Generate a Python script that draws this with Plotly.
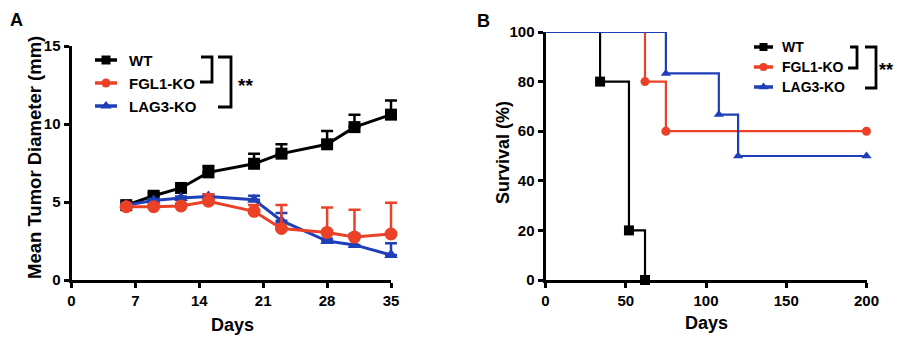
import plotly.graph_objects as go

# ---- Panel A: tumour growth (mean diameter, upper SEM) ----
days_a = [6, 9, 12, 15, 20, 23, 28, 31, 35]
wt_mean = [4.8, 5.4, 5.9, 6.9, 7.45, 8.1, 8.7, 9.8, 10.6]
wt_err = [0.15, 0.2, 0.2, 0.4, 0.65, 0.6, 0.85, 0.8, 0.9]
fgl1_mean = [4.7, 4.7, 4.75, 5.05, 4.4, 3.3, 3.05, 2.75, 2.95]
fgl1_err = [0.1, 0.1, 0.15, 0.45, 0.4, 1.5, 1.6, 1.75, 2.0]
lag3_mean = [4.8, 5.1, 5.25, 5.35, 5.15, 3.8, 2.5, 2.25, 1.6]
lag3_err = [0.1, 0.1, 0.1, 0.15, 0.25, 0.5, 0.15, 0.7, 0.75]

# ---- Panel B: Kaplan-Meier survival ----
wt_days = [0, 34, 52, 62]
wt_surv = [100, 80, 20, 0]
fgl1_days = [0, 62, 75, 200]
fgl1_surv = [100, 80, 60, 60]
lag3_days = [0, 75, 108, 120, 200]
lag3_surv = [100, 83.3, 66.7, 50, 50]

group_names = ["WT", "FGL1-KO", "LAG3-KO"]

BLACK = "#000000"
RED = "#ea4127"
BLUE = "#1f3fb8"
FONT = "Arial, Liberation Sans, Helvetica, sans-serif"

W, H = 904, 346


def px_x(p):
    return p / W


def px_y(p):
    return 1 - p / H


# panel A frame in pixels
AX0, AX1, AY0, AY1 = 71.5, 391.0, 280.0, 46.0
A_XR, A_YR = (0, 35), (0, 15)
PAD = 12  # padding so caps at the last day are not clipped
kx = (AX1 - AX0) / (A_XR[1] - A_XR[0])
ky = (AY0 - AY1) / (A_YR[1] - A_YR[0])

fig = go.Figure()

# transparent anchor so the framed panel-A axes are drawn
fig.add_trace(go.Scatter(
    x=days_a, y=wt_mean, mode="markers", marker=dict(opacity=0),
    xaxis="x", yaxis="y", hoverinfo="skip", showlegend=False,
))

# panel A series (FGL1 drawn last, on top) on a padded twin of the panel-A axes
series_a = [
    (wt_mean, wt_err, BLACK, "square", 12),
    (lag3_mean, lag3_err, BLUE, "triangle-up", 12),
    (fgl1_mean, fgl1_err, RED, "circle", 13),
]
for mean, err, col, sym, sz in series_a:
    fig.add_trace(go.Scatter(
        x=days_a, y=mean, mode="lines+markers",
        line=dict(color=col, width=3),
        marker=dict(symbol=sym, size=sz, color=col),
        error_y=dict(type="data", array=err, arrayminus=[0] * len(err),
                     symmetric=False, color=col, thickness=2.5, width=6),
        xaxis="x4", yaxis="y4", cliponaxis=False, showlegend=False,
    ))

# panel B step curves
series_b = [
    (wt_days, wt_surv, BLACK, "square", 10),
    (fgl1_days, fgl1_surv, RED, "circle", 9),
    (lag3_days, lag3_surv, BLUE, "triangle-up", 9),
]
for xs, ys, col, sym, sz in series_b:
    fig.add_trace(go.Scatter(
        x=xs, y=ys, mode="lines", line=dict(color=col, width=2.2, shape="hv"),
        xaxis="x2", yaxis="y2", cliponaxis=False, showlegend=False,
    ))
    fig.add_trace(go.Scatter(
        x=xs[1:], y=ys[1:], mode="markers", marker=dict(symbol=sym, size=sz, color=col),
        xaxis="x2", yaxis="y2", cliponaxis=False, showlegend=False,
    ))

# legend glyphs drawn on a full-figure pixel overlay
legend_specs = [
    # (line x0, x1, marker size, rows y, text x, font size)
    (95, 117, 9, [60, 83, 106], 127, 15),
    (754, 773, 8, [47, 67, 87], 780, 14),
]
styles = [(BLACK, "square"), (RED, "circle"), (BLUE, "triangle-up")]
annotations = []
for x0, x1, msz, rows, tx, fs in legend_specs:
    for (col, sym), yy, name in zip(styles, rows, group_names):
        fig.add_trace(go.Scatter(
            x=[x0, x1], y=[yy, yy], mode="lines",
            line=dict(color=col, width=3.5),
            xaxis="x3", yaxis="y3", showlegend=False, hoverinfo="skip",
        ))
        fig.add_trace(go.Scatter(
            x=[(x0 + x1) / 2], y=[yy], mode="markers",
            marker=dict(symbol=sym, size=msz + (1 if sym == "triangle-up" else 0), color=col),
            xaxis="x3", yaxis="y3", showlegend=False, hoverinfo="skip",
        ))
        annotations.append(dict(
            x=tx, y=yy, xref="x3", yref="y3", text=f"<b>{name}</b>",
            showarrow=False, xanchor="left", yanchor="middle",
            font=dict(family=FONT, size=fs, color="black"),
        ))

# significance brackets
shapes = []


def bracket(xl, xr, yt, yb, xlb=None):
    xlb = xl if xlb is None else xlb
    path = f"M {xl},{yt} L {xr},{yt} L {xr},{yb} L {xlb},{yb}"
    shapes.append(dict(type="path", path=path, xref="x3", yref="y3",
                       line=dict(color="black", width=2.8)))


bracket(201, 212, 57, 82, 200)
bracket(218, 231, 57, 107)
bracket(850, 857, 47, 68, 848)
bracket(865, 876, 47, 88)

annotations.append(dict(x=236, y=85, xref="x3", yref="y3", text="<b>**</b>", showarrow=False,
                        xanchor="left", yanchor="middle", font=dict(family=FONT, size=19, color="black")))
annotations.append(dict(x=877, y=70, xref="x3", yref="y3", text="<b>**</b>", showarrow=False,
                        xanchor="left", yanchor="middle", font=dict(family=FONT, size=18, color="black")))

# panel letters and axis titles
title_font = dict(family=FONT, size=18, color="black")
annotations += [
    dict(x=16, y=20, xref="x3", yref="y3", text="<b>A</b>", showarrow=False,
         xanchor="center", yanchor="middle", font=dict(family=FONT, size=18, color="black")),
    dict(x=483, y=21, xref="x3", yref="y3", text="<b>B</b>", showarrow=False,
         xanchor="center", yanchor="middle", font=dict(family=FONT, size=18, color="black")),
    dict(x=34, y=158, xref="x3", yref="y3", text="<b>Mean Tumor Diameter (mm)</b>", showarrow=False,
         textangle=-90, xanchor="center", yanchor="middle", font=dict(family=FONT, size=18.5, color="black")),
    dict(x=232, y=325, xref="x3", yref="y3", text="<b>Days</b>", showarrow=False,
         xanchor="center", yanchor="middle", font=title_font),
    dict(x=503, y=153, xref="x3", yref="y3", text="<b>Survival (%)</b>", showarrow=False,
         textangle=-90, xanchor="center", yanchor="middle", font=title_font),
    dict(x=706, y=323, xref="x3", yref="y3", text="<b>Days</b>", showarrow=False,
         xanchor="center", yanchor="middle", font=title_font),
]

tick_font = dict(family=FONT, size=15, color="black", weight="bold")
axis_common = dict(showline=True, linecolor="black", linewidth=3, ticks="outside",
                   ticklen=5, tickwidth=2.5, tickcolor="black", showgrid=False,
                   zeroline=False, tickfont=tick_font, automargin=False, fixedrange=True)

fig.update_layout(
    width=W, height=H, margin=dict(l=0, r=0, t=0, b=0),
    paper_bgcolor="white", plot_bgcolor="rgba(0,0,0,0)",
    xaxis=dict(domain=[px_x(AX0), px_x(AX1)], range=list(A_XR), tickvals=[0, 7, 14, 21, 28, 35],
               anchor="y", **axis_common),
    yaxis=dict(domain=[px_y(AY0), px_y(AY1)], range=list(A_YR), tickvals=[0, 5, 10, 15],
               anchor="x", **axis_common),
    xaxis4=dict(domain=[px_x(AX0 - PAD), px_x(AX1 + PAD)],
                range=[A_XR[0] - PAD / kx, A_XR[1] + PAD / kx],
                visible=False, anchor="y4", fixedrange=True),
    yaxis4=dict(domain=[px_y(AY0 + PAD), px_y(AY1 - PAD)],
                range=[A_YR[0] - PAD / ky, A_YR[1] + PAD / ky],
                visible=False, anchor="x4", fixedrange=True),
    xaxis2=dict(domain=[px_x(545.5), px_x(866.5)], range=[0, 200], tickvals=[0, 50, 100, 150, 200],
                anchor="y2", **axis_common),
    yaxis2=dict(domain=[px_y(280), px_y(32)], range=[0, 100], tickvals=[0, 20, 40, 60, 80, 100],
                anchor="x2", **axis_common),
    xaxis3=dict(domain=[0, 1], range=[0, W], visible=False, anchor="y3", fixedrange=True),
    yaxis3=dict(domain=[0, 1], range=[H, 0], visible=False, anchor="x3", fixedrange=True),
    shapes=shapes, annotations=annotations, showlegend=False,
)

fig.write_html("out.html")
